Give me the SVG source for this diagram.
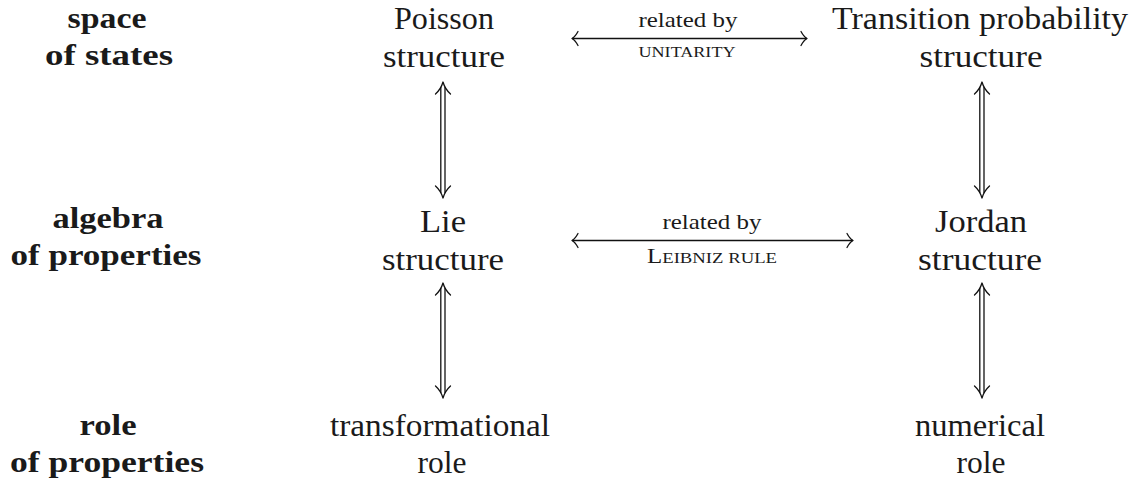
<svg xmlns="http://www.w3.org/2000/svg" width="1136" height="481" viewBox="0 0 1136 481">
<style>
.t{font-family:"Liberation Serif","DejaVu Serif",serif;font-size:31px;fill:#1a1a1a;text-anchor:middle}
.b{font-family:"Liberation Serif","DejaVu Serif",serif;font-size:30px;font-weight:bold;fill:#1a1a1a;text-anchor:middle}
.s{font-family:"Liberation Serif","DejaVu Serif",serif;font-size:21px;fill:#1a1a1a;text-anchor:middle}
.c{font-family:"Liberation Serif","DejaVu Serif",serif;font-size:15px;fill:#1a1a1a;text-anchor:middle}
.ln{stroke:#111;stroke-width:1.3;fill:none}
.hd{stroke:#111;stroke-width:1.3;fill:none;stroke-linecap:round;stroke-linejoin:round}
</style>
<g id="row-labels">
<g id="label-space"><text class="b" x="107" y="28" textLength="79" lengthAdjust="spacingAndGlyphs">space</text><text class="b" x="109" y="65" textLength="128" lengthAdjust="spacingAndGlyphs">of states</text></g>
<g id="label-algebra"><text class="b" x="108" y="228" textLength="111" lengthAdjust="spacingAndGlyphs">algebra</text><text class="b" x="106" y="265" textLength="191" lengthAdjust="spacingAndGlyphs">of properties</text></g>
<g id="label-role"><text class="b" x="108" y="435" textLength="57" lengthAdjust="spacingAndGlyphs">role</text><text class="b" x="107" y="472" textLength="194" lengthAdjust="spacingAndGlyphs">of properties</text></g>
</g>
<g id="poisson"><text class="t" x="444" y="29" textLength="100" lengthAdjust="spacingAndGlyphs">Poisson</text><text class="t" x="444" y="67" textLength="122" lengthAdjust="spacingAndGlyphs">structure</text></g>
<g id="transition"><text class="t" x="980" y="29" textLength="296" lengthAdjust="spacingAndGlyphs">Transition probability</text><text class="t" x="981" y="67" textLength="123" lengthAdjust="spacingAndGlyphs">structure</text></g>
<g id="lie"><text class="t" x="443" y="232" textLength="46" lengthAdjust="spacingAndGlyphs">Lie</text><text class="t" x="443" y="270" textLength="122" lengthAdjust="spacingAndGlyphs">structure</text></g>
<g id="jordan"><text class="t" x="981" y="232" textLength="92" lengthAdjust="spacingAndGlyphs">Jordan</text><text class="t" x="980" y="270" textLength="124" lengthAdjust="spacingAndGlyphs">structure</text></g>
<g id="transformational"><text class="t" x="440" y="436" textLength="220" lengthAdjust="spacingAndGlyphs">transformational</text><text class="t" x="442" y="473" textLength="49" lengthAdjust="spacingAndGlyphs">role</text></g>
<g id="numerical"><text class="t" x="980" y="436" textLength="130" lengthAdjust="spacingAndGlyphs">numerical</text><text class="t" x="981" y="473" textLength="49" lengthAdjust="spacingAndGlyphs">role</text></g>
<g id="connectors">
<g id="h1">
<line class="ln" x1="572" y1="38.5" x2="807" y2="38.5"/>
<path class="hd" d="M578,31.5 Q575,37 572,38.5 Q575,40 578,45.5"/>
<path class="hd" d="M801,31.5 Q804,37 807,38.5 Q804,40 801,45.5"/>
<text class="s" x="688" y="27" textLength="99" lengthAdjust="spacingAndGlyphs">related by</text>
<text class="c" x="687" y="57" textLength="97" lengthAdjust="spacingAndGlyphs">UNITARITY</text>
</g>
<g id="h2">
<line class="ln" x1="572" y1="240.5" x2="853" y2="240.5"/>
<path class="hd" d="M578,233.5 Q575,239 572,240.5 Q575,242 578,247.5"/>
<path class="hd" d="M847,233.5 Q850,239 853,240.5 Q850,242 847,247.5"/>
<text class="s" x="712" y="229" textLength="99" lengthAdjust="spacingAndGlyphs">related by</text>
<text class="c" x="712" y="263" textLength="130" lengthAdjust="spacingAndGlyphs"><tspan font-size="20px">L</tspan>EIBNIZ RULE</text>
</g>
<g id="v1">
<line class="ln" x1="440.8" y1="87" x2="440.8" y2="193"/>
<line class="ln" x1="445" y1="87" x2="445" y2="193"/>
<path class="hd" d="M435.5,94 Q441,89 443,82 Q445,89 450.5,94"/>
<path class="hd" d="M435.5,186 Q441,191 443,198 Q445,191 450.5,186"/>
</g>
<g id="v2">
<line class="ln" x1="979.8" y1="87" x2="979.8" y2="193"/>
<line class="ln" x1="984" y1="87" x2="984" y2="193"/>
<path class="hd" d="M974.5,94 Q980,89 982,82 Q984,89 989.5,94"/>
<path class="hd" d="M974.5,186 Q980,191 982,198 Q984,191 989.5,186"/>
</g>
<g id="v3">
<line class="ln" x1="440.8" y1="288" x2="440.8" y2="393"/>
<line class="ln" x1="445" y1="288" x2="445" y2="393"/>
<path class="hd" d="M435.5,295 Q441,290 443,283 Q445,290 450.5,295"/>
<path class="hd" d="M435.5,386 Q441,391 443,398 Q445,391 450.5,386"/>
</g>
<g id="v4">
<line class="ln" x1="979.8" y1="288" x2="979.8" y2="393"/>
<line class="ln" x1="984" y1="288" x2="984" y2="393"/>
<path class="hd" d="M974.5,295 Q980,290 982,283 Q984,290 989.5,295"/>
<path class="hd" d="M974.5,386 Q980,391 982,398 Q984,391 989.5,386"/>
</g>
</g>
</svg>
